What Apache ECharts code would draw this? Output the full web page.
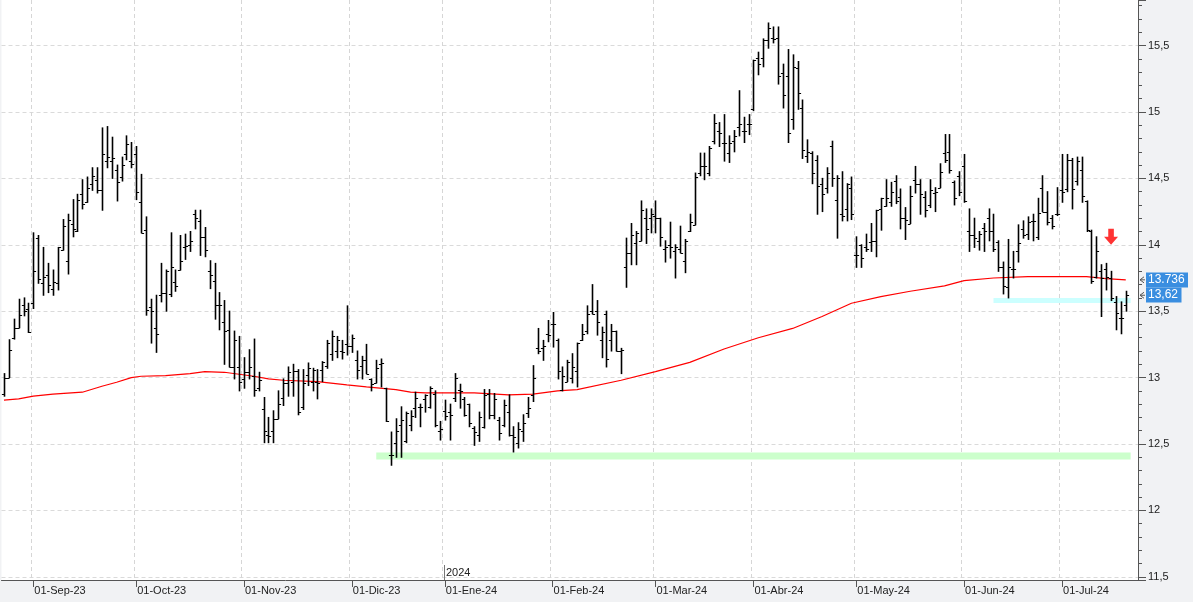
<!DOCTYPE html>
<html><head><meta charset="utf-8">
<script src="https://cdn.jsdelivr.net/npm/echarts@6/dist/echarts.min.js"></script>
<style>html,body{margin:0;padding:0;background:#fff}#c{width:1193px;height:602px}</style>
</head><body><div id="c"></div><script>
// ---- data ----
const startDate = '2023-08-24';
const endDate = '2024-07-18';
const holidays = ['2023-12-25','2023-12-26','2024-01-01','2024-03-29','2024-04-01','2024-05-01'];
const padDates = ['2024-07-19','2024-07-22'];
const monthNames = ['Ene','Feb','Mar','Abr','May','Jun','Jul','Ago','Sep','Oct','Nov','Dic'];

const openP = [
12.875,13.00,13.30,13.375,13.55,13.52,13.56,14.05,13.71,13.77,
13.67,13.71,13.96,13.88,14.16,14.10,14.38,14.32,14.46,14.49,
14.41,14.63,14.63,14.56,14.51,14.68,14.63,14.68,14.32,14.11,
13.53,13.37,13.62,13.64,13.63,13.72,13.81,13.98,14.00,14.23,
14.18,14.06,13.80,13.73,13.55,13.42,13.36,13.08,13.08,12.99,
13.04,13.01,12.92,12.76,12.57,12.60,12.69,12.85,12.96,12.97,
13.05,12.78,13.02,12.97,12.97,13.06,13.09,13.18,13.20,13.20,
13.25,13.24,13.13,13.09,13.13,12.99,12.96,13.10,12.92,12.42,
12.51,12.64,12.52,12.64,12.77,12.78,12.84,12.78,12.88,12.60,
12.75,12.74,12.85,12.91,12.84,12.80,12.62,12.57,12.63,12.88,
12.72,12.68,12.64,12.74,12.57,12.51,12.60,12.73,12.87,13.22,
13.22,13.33,13.40,13.28,12.91,12.97,13.00,13.05,13.28,13.35,
13.50,13.50,13.28,13.48,13.28,13.35,13.20,13.83,13.94,14.01,
14.03,14.20,14.20,14.22,14.20,13.97,14.00,13.95,13.97,13.88,
14.10,14.15,14.54,14.59,14.54,14.78,14.86,14.77,14.69,14.78,
14.89,14.86,14.91,15.02,15.41,15.41,15.54,15.56,15.56,15.29,
15.27,14.95,15.33,15.03,14.67,14.69,14.64,14.46,14.43,14.74,
14.34,14.23,14.27,14.43,13.92,14.00,13.98,14.02,14.03,14.27,
14.29,14.32,14.48,14.36,14.20,14.16,14.49,14.46,14.36,14.30,
14.39,14.43,14.69,14.70,14.47,14.52,14.59,14.10,14.07,14.03,
14.13,14.20,14.10,14.02,13.83,13.68,13.82,13.95,14.12,14.08,
14.18,14.06,14.43,14.25,14.20,14.23,14.41,14.42,14.64,14.48,
14.56,14.33,14.10,13.76,13.80,13.82,13.75,13.57,13.45,13.55];
const highP = [
13.03,13.285,13.44,13.59,13.60,13.56,14.09,14.07,13.98,13.86,
13.81,13.98,14.19,14.23,14.34,14.38,14.49,14.51,14.58,14.58,
14.88,14.89,14.81,14.60,14.66,14.82,14.77,14.74,14.53,14.21,
13.59,13.62,13.86,13.81,14.09,13.81,14.07,14.08,14.10,14.26,
14.26,14.13,13.88,13.86,13.64,13.58,13.50,13.35,13.31,13.15,
13.21,13.29,13.04,12.85,12.70,12.75,12.90,12.99,13.08,13.10,
13.06,13.06,13.11,13.07,13.06,13.12,13.28,13.35,13.31,13.28,
13.54,13.32,13.20,13.16,13.25,12.99,13.13,13.14,12.92,12.59,
12.69,12.78,12.74,12.75,12.89,12.80,12.87,12.93,12.90,12.67,
12.83,12.80,13.03,12.95,12.85,12.80,12.63,12.74,12.91,12.91,
12.88,12.70,12.83,12.87,12.63,12.66,12.72,12.85,13.09,13.37,
13.28,13.43,13.49,13.29,13.08,13.13,13.18,13.26,13.40,13.54,
13.70,13.58,13.38,13.50,13.40,13.35,13.22,14.05,14.16,14.10,
14.33,14.27,14.27,14.33,14.20,14.03,14.17,14.00,14.14,14.04,
14.23,14.54,14.69,14.69,14.74,14.98,14.92,14.98,14.82,14.86,
15.16,14.96,14.98,15.39,15.45,15.55,15.67,15.64,15.64,15.36,
15.47,15.43,15.38,15.09,14.79,14.70,14.67,14.50,14.58,14.78,
14.52,14.55,14.46,14.51,14.06,14.00,14.08,14.16,14.26,14.35,
14.49,14.47,14.52,14.42,14.28,14.44,14.59,14.49,14.40,14.49,
14.43,14.61,14.83,14.83,14.48,14.55,14.68,14.27,14.20,14.10,
14.16,14.27,14.23,14.03,13.87,14.04,13.95,14.15,14.18,14.21,
14.23,14.35,14.52,14.40,14.22,14.43,14.68,14.68,14.65,14.66,
14.66,14.33,14.11,14.06,13.85,13.86,13.80,13.61,13.57,13.65];
const lowP = [
12.86,13.00,13.29,13.375,13.465,13.34,13.52,13.71,13.62,13.64,
13.62,13.66,13.96,13.78,14.06,14.10,14.27,14.32,14.41,14.39,
14.26,14.58,14.50,14.33,14.48,14.64,14.58,14.34,14.09,13.47,
13.26,13.19,13.57,13.50,13.61,13.65,13.81,13.89,13.95,14.12,
13.92,13.91,13.67,13.44,13.36,13.10,13.08,12.99,12.90,12.92,
12.99,12.86,12.90,12.51,12.51,12.51,12.69,12.79,12.86,12.86,
12.72,12.76,12.94,12.90,12.84,12.97,13.07,13.13,13.15,13.14,
13.17,13.19,12.99,12.99,13.03,12.90,12.96,12.93,12.67,12.34,
12.40,12.40,12.51,12.60,12.70,12.63,12.74,12.77,12.63,12.53,
12.68,12.53,12.82,12.77,12.71,12.63,12.49,12.52,12.62,12.69,
12.69,12.53,12.63,12.56,12.44,12.47,12.52,12.70,12.82,13.18,
13.13,13.27,13.23,12.99,12.90,12.97,12.96,12.93,13.28,13.33,
13.48,13.32,13.15,13.08,13.20,13.20,13.03,13.68,13.85,13.85,
14.03,14.01,14.09,14.09,13.99,13.87,13.90,13.75,13.94,13.79,
14.10,14.15,14.52,14.49,14.52,14.76,14.74,14.63,14.62,14.70,
14.82,14.77,14.83,15.01,15.28,15.34,15.48,15.52,15.21,15.03,
14.77,14.87,15.02,14.65,14.62,14.46,14.23,14.25,14.39,14.44,
14.05,14.18,14.18,14.19,13.83,13.83,13.95,13.95,13.91,14.11,
14.29,14.29,14.31,14.12,14.04,14.16,14.39,14.23,14.21,14.28,
14.25,14.43,14.62,14.54,14.30,14.37,14.32,13.95,13.98,13.96,
13.95,14.03,13.95,13.80,13.63,13.60,13.75,13.87,14.05,14.04,
14.03,14.04,14.25,14.15,14.12,14.22,14.32,14.40,14.27,14.45,
14.32,14.10,13.71,13.75,13.46,13.66,13.58,13.36,13.33,13.50];
const closeP = [
13.00,13.205,13.375,13.475,13.505,13.34,13.80,13.74,13.76,13.70,
13.72,13.98,14.14,14.19,14.12,14.34,14.31,14.43,14.52,14.41,
14.68,14.66,14.65,14.47,14.60,14.76,14.61,14.40,14.09,13.51,
13.50,13.33,13.64,13.80,13.83,13.69,13.88,13.99,14.03,14.20,
14.06,13.96,13.77,13.55,13.55,13.35,13.08,13.28,12.97,13.04,
13.08,12.91,12.98,12.60,12.56,12.69,12.80,12.96,13.04,13.05,
12.74,12.96,13.07,13.06,12.96,13.12,13.26,13.31,13.28,13.19,
13.24,13.30,13.06,13.13,13.03,12.95,13.07,13.11,12.67,12.42,
12.60,12.68,12.73,12.71,12.85,12.78,12.87,12.92,12.64,12.61,
12.71,12.72,13.00,12.90,12.72,12.66,12.59,12.70,12.87,12.72,
12.84,12.58,12.79,12.57,12.55,12.61,12.66,12.77,13.00,13.20,
13.24,13.32,13.40,13.05,13.01,13.12,13.08,13.26,13.33,13.48,
13.48,13.42,13.34,13.14,13.35,13.20,13.21,13.94,14.07,14.09,
14.26,14.12,14.23,14.20,14.06,13.98,13.98,13.98,13.94,14.03,
14.17,14.51,14.59,14.59,14.73,14.92,14.84,14.77,14.77,14.82,
14.91,14.86,14.91,15.39,15.36,15.54,15.63,15.55,15.27,15.13,
14.84,15.34,15.14,14.71,14.70,14.54,14.44,14.38,14.54,14.50,
14.50,14.22,14.46,14.23,13.92,13.90,13.97,14.03,14.26,14.35,
14.35,14.40,14.33,14.20,14.19,14.37,14.46,14.38,14.26,14.41,
14.40,14.55,14.64,14.56,14.35,14.40,14.33,14.07,14.05,14.08,
14.10,14.10,13.97,13.83,13.69,13.83,13.82,14.01,14.07,14.17,
14.18,14.24,14.25,14.17,14.14,14.23,14.40,14.64,14.42,14.63,
14.37,14.11,13.73,13.95,13.75,13.76,13.60,13.49,13.45,13.62];

// moving average read at sampled bar indices
const maIdx = [0,3,6,10,16,20,23,26,28,33,38,41,45,51,54,57,64,70,74,80,83,86,96,103,108,113,117,126,133,140,147,154,161,167,173,179,185,192,196,202,209,221,225,229];
const maVal = [12.83,12.84,12.86,12.875,12.89,12.935,12.965,13.00,13.01,13.015,13.03,13.045,13.04,13.01,12.99,12.98,12.97,12.945,12.93,12.91,12.89,12.885,12.885,12.87,12.875,12.90,12.91,12.98,13.045,13.115,13.215,13.30,13.37,13.46,13.56,13.61,13.65,13.69,13.73,13.75,13.76,13.76,13.745,13.736];
const maLastText = '13.736';

const supportLevel = 12.41, supportFromIdx = 76;
const stopLevel = 13.58, stopFromIdx = 202;
const signalIdx = 226, signalLevel = 14.06;

// ---- build categories (trading days) ----
const dates = [];
(function(){
  let d = new Date(startDate + 'T00:00:00Z');
  const end = new Date(endDate + 'T00:00:00Z');
  while (d <= end) {
    const s = d.toISOString().slice(0,10);
    const wd = d.getUTCDay();
    if (wd !== 0 && wd !== 6 && holidays.indexOf(s) < 0) dates.push(s);
    d = new Date(d.getTime() + 86400000);
  }
})();
const cats = dates.concat(padDates);
const isMonthStart = i => i > 0 && i < cats.length && cats[i].slice(5,7) !== cats[i-1].slice(5,7);
const monthLabel = s => '01-' + monthNames[parseInt(s.slice(5,7),10)-1] + '-' + s.slice(2,4);
const yearIdx = cats.findIndex((s,i)=> i>0 && s.slice(0,4) !== cats[i-1].slice(0,4));

const ohlc = dates.map((d,i)=>[i, openP[i], highP[i], lowP[i], closeP[i]]);
const lastIdxPad = cats.length - 2;

const chart = echarts.init(document.getElementById('c'), null, {renderer:'canvas'});
const FONT = 'Liberation Sans, Arial, sans-serif';
const RIGHT = 55;
const option = {
  animation: false,
  backgroundColor: '#f1f2f4',
  grid: {left: 1.5, right: RIGHT, top: 0, bottom: 22, show: true, backgroundColor: '#ffffff', borderWidth: 0},
  xAxis: {
    type: 'category', data: cats, boundaryGap: true,
    axisLine: {lineStyle: {color: '#555', width: 1}},
    axisTick: {show: true, alignWithLabel: true, interval: (i)=>isMonthStart(i), length: 7, lineStyle: {color: '#555'}},
    axisLabel: {interval: (i)=>isMonthStart(i), formatter: (v)=>monthLabel(v), align: 'left', margin: 5,
                fontSize: 11, color: '#222', fontFamily: FONT, padding: [0,0,0,1]},
    splitLine: {show: true, interval: (i)=>isMonthStart(i), lineStyle: {color: '#d6d6d6', type: [4,3], width: 1}}
  },
  yAxis: {
    type: 'value', position: 'right', min: 11.476, max: 15.843, splitNumber: 8, scale: true,
    axisLine: {show: true, lineStyle: {color: '#555', width: 1}},
    axisTick: {show: true, inside: false, length: 8, lineStyle: {color: '#555'}},
    minorTick: {show: true, splitNumber: 5, length: 4, lineStyle: {color: '#555'}},
    axisLabel: {showMinLabel: false, showMaxLabel: false, margin: 10, fontSize: 11, color: '#222', fontFamily: FONT,
                formatter: (v)=>String(Math.round(v*10)/10).replace('.', ',')},
    splitLine: {show: true, showMinLine: false, showMaxLine: false, lineStyle: {color: '#dadada', type: [4,3], width: 1}}
  },
  series: [
    {type: 'line', name: 'support', silent: true, showSymbol: false, z: 1,
     data: [[supportFromIdx, supportLevel], [lastIdxPad, supportLevel]],
     lineStyle: {color: '#ccffcc', width: 7}},
    {type: 'line', name: 'stop', silent: true, showSymbol: false, z: 1,
     data: [[stopFromIdx, stopLevel], [lastIdxPad, stopLevel]],
     lineStyle: {color: '#ccffff', width: 5}},
    {type: 'line', name: 'MA', silent: true, showSymbol: false, z: 3,
     data: maIdx.map((i,k)=>[i, maVal[k]]),
     lineStyle: {color: '#ff0000', width: 1.2}},
    {type: 'custom', name: 'ohlc', z: 4, data: ohlc, encode: {x: 0, y: [1,2,3,4]},
     renderItem: function(params, api){
       const i = api.value(0);
       const o = api.coord([i, api.value(1)]);
       const h = api.coord([i, api.value(2)]);
       const l = api.coord([i, api.value(3)]);
       const c = api.coord([i, api.value(4)]);
       const x = Math.round(h[0]) + 0.5;
       const tk = 2.6;
       const oy = Math.round(o[1]) + 0.5, cy = Math.round(c[1]) + 0.5;
       return {type: 'group', children: [
         {type: 'line', shape: {x1: x, y1: h[1]-0.5, x2: x, y2: l[1]+0.5}, style: {stroke: '#000', lineWidth: 1.6}},
         {type: 'line', shape: {x1: x-tk, y1: oy, x2: x, y2: oy}, style: {stroke:'#000', lineWidth:1}},
         {type: 'line', shape: {x1: x, y1: cy, x2: x+tk, y2: cy}, style: {stroke:'#000', lineWidth:1}}
       ]};
     }},
    {type: 'scatter', name: 'signal', silent: true, z: 5,
     data: [[signalIdx, signalLevel]],
     symbol: 'path://M3,0 L7,0 L7,5 L10,5 L5,10 L0,5 L3,5 Z', symbolSize: [14, 16],
     itemStyle: {color: '#ff0000'}}
  ]
};
chart.setOption(option);

// value tags on the price axis + year marker, positioned through the scales
function tag(val, text, color){
  const y = chart.convertToPixel({yAxisIndex: 0}, val);
  const axisX = chart.getWidth() - RIGHT;
  return [
    {type: 'polyline', z: 20, shape: {points: [[axisX+6, y-3],[axisX+2, y],[axisX+6, y+3]]}, style: {stroke: '#555', fill: null, lineWidth: 1}},
    {type: 'line', z: 20, shape: {x1: axisX+2, y1: y, x2: axisX+7, y2: y}, style: {stroke: '#555', lineWidth: 1}},
    {type: 'rect', z: 20, shape: {x: axisX+8, y: Math.round(y)-7.5, width: text.length*6.5+3, height: 15}, style: {fill: color}},
    {type: 'text', z: 21, x: axisX+10, y: Math.round(y), style: {text: text, fill: '#fff', font: '12px ' + FONT, verticalAlign: 'middle'}}
  ];
}
const maLast = maVal[maVal.length-1];
const lastClose = closeP[closeP.length-1];
const yrX = Math.round(chart.convertToPixel({xAxisIndex: 0}, yearIdx));
const yBottom = chart.convertToPixel({yAxisIndex: 0}, 11.476);
const g = [].concat(
  [
    {type: 'rect', z: 20, shape: {x: yrX - 1, y: yBottom - 15, width: 1, height: 15}, style: {fill: '#777'}},
    {type: 'text', z: 20, x: yrX + 1, y: yBottom - 2, style: {text: '2024', fill: '#222', font: '11px ' + FONT, verticalAlign: 'bottom'}}
  ],
  tag(maLast, maLastText, '#3a8ee0'),
  tag(lastClose, String(lastClose).replace('.', ','), '#3a8ee0')
);
chart.setOption({graphic: g});
</script></body></html>
